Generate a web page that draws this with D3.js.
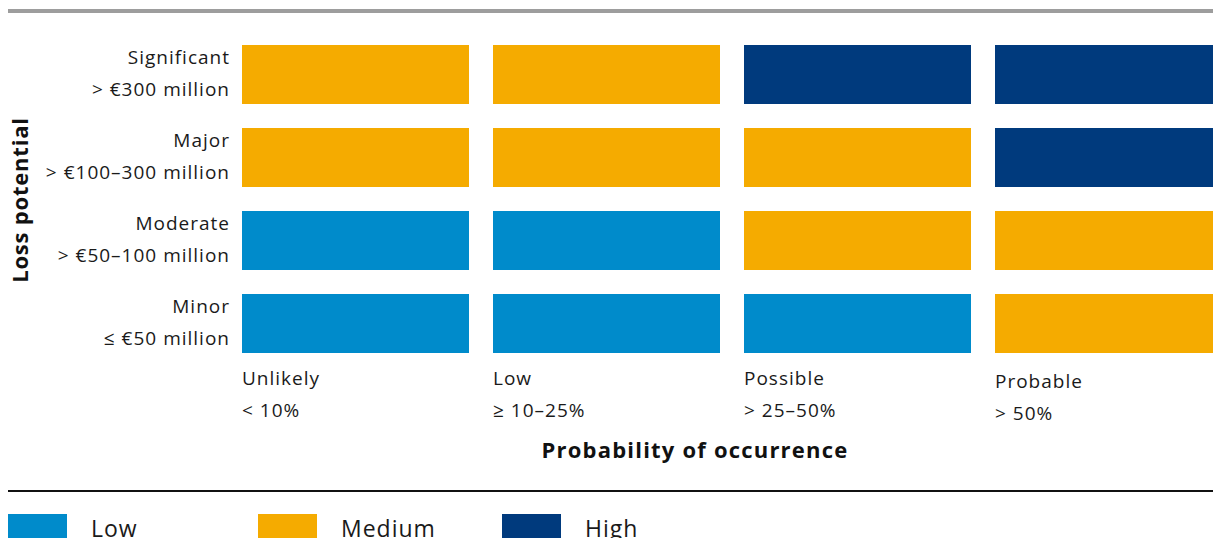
<!DOCTYPE html>
<html>
<head>
<meta charset="utf-8">
<script src="https://cdn.jsdelivr.net/npm/d3@7"></script>
<style>
  body { margin: 0; background: #fff; }
  svg { display: block; font-family: "Open Sans", "DejaVu Sans", sans-serif; }
</style>
</head>
<body>
<svg id="chart" width="1213" height="538"></svg>
<script>
// Loss potential rows (top to bottom) and probability columns
var rows = ["Significant", "Major", "Moderate", "Minor"];
var rowSub = ["> €300 million", "> €100–300 million", "> €50–100 million", "≤ €50 million"];
var cols = ["Unlikely", "Low", "Possible", "Probable"];
var colSub = ["< 10%", "≥ 10–25%", "> 25–50%", "> 50%"];
var levels = ["Low", "Medium", "High"];

// risk level per row (same order as rows), per column
var matrix = [
    ["Medium", "Medium", "High", "High"],
    ["Medium", "Medium", "Medium", "High"],
    ["Low", "Low", "Medium", "Medium"],
    ["Low", "Low", "Low", "Medium"]
];

var svg = d3.select('#chart');
var W = 1213;

var color = d3.scaleOrdinal()
    .domain(levels)
    .range(["#008bcb", "#f5ab00", "#003a7d"]);

var x = d3.scaleBand().domain(cols).range([242, 1222]).paddingInner(24 / 251);
var y = d3.scaleBand().domain(rows).range([45, 353]).paddingInner(24 / 83);

// top gray rule
svg.append('rect')
    .attr('x', 8).attr('y', 9)
    .attr('width', W - 8).attr('height', 4)
    .attr('fill', '#9d9d9d');

// cells
var cells = [];
rows.forEach(function(r, i) {
    cols.forEach(function(c, j) {
        cells.push({row: r, col: c, level: matrix[i][j]});
    });
});

svg.selectAll('rect.cell')
    .data(cells)
    .enter()
    .append('rect')
    .attr('class', 'cell')
    .attr('x', d => x(d.col))
    .attr('y', d => y(d.row))
    .attr('width', x.bandwidth())
    .attr('height', y.bandwidth())
    .attr('fill', d => color(d.level));

// row labels
var rowLab = svg.selectAll('g.rowlab')
    .data(rows)
    .enter()
    .append('g')
    .attr('class', 'rowlab')
    .attr('transform', d => 'translate(230,' + y(d) + ')');

rowLab.append('text')
    .attr('y', 19)
    .attr('text-anchor', 'end')
    .attr('font-size', 19)
    .attr('letter-spacing', 1)
    .attr('fill', '#1a1a1a')
    .text(d => d);

rowLab.append('text')
    .attr('y', 51)
    .attr('text-anchor', 'end')
    .attr('font-size', 19)
    .attr('letter-spacing', 1)
    .attr('fill', '#1a1a1a')
    .text((d, i) => rowSub[i]);

// y axis title
svg.append('text')
    .attr('transform', 'translate(28,' + ((y.range()[0] + y.range()[1]) / 2 + 1) + ') rotate(-90)')
    .attr('text-anchor', 'middle')
    .attr('font-size', 22)
    .attr('letter-spacing', 0.8)
    .attr('font-weight', 'bold')
    .attr('fill', '#111')
    .text('Loss potential');

// column labels
var colLab = svg.selectAll('g.collab')
    .data(cols)
    .enter()
    .append('g')
    .attr('class', 'collab')
    .attr('transform', (d, i) => 'translate(' + x(d) + ',' + (i == 3 ? 388 : 385) + ')');

colLab.append('text')
    .attr('font-size', 19)
    .attr('letter-spacing', 1)
    .attr('fill', '#1a1a1a')
    .text(d => d);

colLab.append('text')
    .attr('y', 32)
    .attr('font-size', 19)
    .attr('letter-spacing', 1)
    .attr('fill', '#1a1a1a')
    .text((d, i) => colSub[i]);

// x axis title
svg.append('text')
    .attr('x', 695)
    .attr('y', 458)
    .attr('text-anchor', 'middle')
    .attr('font-size', 22)
    .attr('letter-spacing', 1.2)
    .attr('font-weight', 'bold')
    .attr('fill', '#111')
    .text('Probability of occurrence');

// bottom black rule
svg.append('rect')
    .attr('x', 8).attr('y', 490)
    .attr('width', W - 8).attr('height', 2)
    .attr('fill', '#111');

// legend
var legX = d3.scaleOrdinal().domain(levels).range([8, 258, 502]);

var leg = svg.selectAll('g.leg')
    .data(levels)
    .enter()
    .append('g')
    .attr('class', 'leg')
    .attr('transform', d => 'translate(' + legX(d) + ',514)');

leg.append('rect')
    .attr('width', 59)
    .attr('height', 30)
    .attr('fill', d => color(d));

leg.append('text')
    .attr('x', 83)
    .attr('y', 23)
    .attr('font-size', 23)
    .attr('letter-spacing', 1)
    .attr('fill', '#1a1a1a')
    .text(d => d);
</script>
</body>
</html>
